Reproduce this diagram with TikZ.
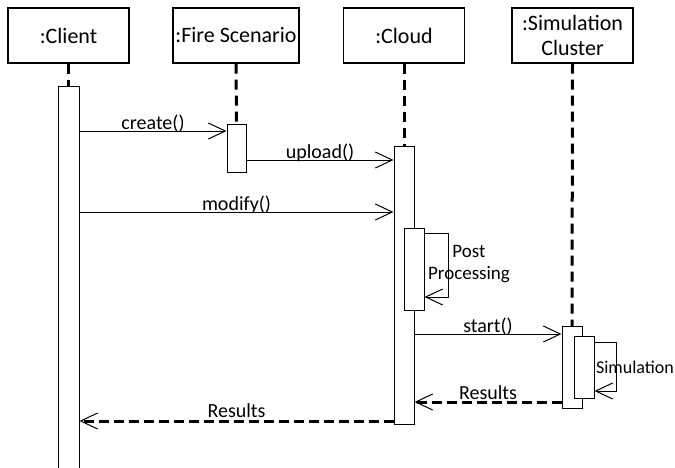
\documentclass[tikz,border=0pt]{standalone}
\usepackage{fontspec}
\setmainfont{Carlito}
\usetikzlibrary{arrows.meta}
\begin{document}
\begin{tikzpicture}[x=1pt,y=-1pt,
  obj/.style={draw, line width=1.2pt, minimum width=121pt, minimum height=55pt, inner sep=0pt,
    font=\fontsize{22}{25}\selectfont, align=center},
  act/.style={draw, line width=1pt, fill=white, minimum width=20pt, inner sep=0pt, anchor=north},
  life/.style={line width=3pt, dash pattern=on 10pt off 6pt},
  msg/.style={line width=1pt, -{Straight Barb[length=17pt,width=16pt]}},
  ret/.style={line width=3pt, dash pattern=on 10pt off 5pt,
    -{Straight Barb[length=17pt,width=16pt,line width=1pt]}},
  lbl/.style={font=\fontsize{20}{24}\selectfont, anchor=base, inner sep=0pt},
  note/.style={font=\fontsize{19}{22}\selectfont, inner sep=0pt, align=center}
]
\useasboundingbox (0,0) rectangle (675,467);

% objects
\node[obj] (client) at (68.5,35.5) {:Client};
\node[obj, minimum width=126pt] (fire) at (236,35.5) {:Fire Scenario};
\node[obj] (cloud) at (404,35.5) {:Cloud};
\node[obj] (sim) at (572.5,35.5) {:Simulation\\Cluster};

% activations
\node[act, minimum width=21pt, minimum height=392pt] (a1) at (68.5,86) {};
\node[act, minimum width=19pt, minimum height=48pt] (a2) at (236.5,124) {};
\node[act, minimum height=278pt] (a3) at (404,146) {};
\node[act, minimum height=82pt] (a4) at (414,228) {};
\node[act, minimum height=82pt] (a5) at (572,326) {};
\node[act, minimum height=62pt] (a6) at (584,336) {};

% lifelines
\draw[life] (client.south) -- (a1.north);
\draw[life] (fire.south) -- (a2.north);
\draw[life] (cloud.south) -- (a3.north);
\draw[life] (sim.south) -- (a5.north);

% messages
\draw[msg] (a1.east |- 0,131) -- node[lbl, yshift=2pt] {create()} (a2.west |- 0,131);
\draw[msg] (a2.east |- 0,160) -- node[lbl, yshift=2pt] {upload()} (a3.west |- 0,160);
\draw[msg] (a1.east |- 0,212) -- node[lbl, yshift=2pt] {modify()} (a3.west |- 0,212);
\draw[msg] (a4.east |- 0,233) -- ++(24,0) |- (a4.east |- 0,297);
\node[note] (pp) at (469,264) {Post\\Processing};
\draw[msg] (a3.east |- 0,334) -- node[lbl, yshift=2pt] {start()} (a5.west |- 0,334);
\draw[msg] (a6.east |- 0,342) -- ++(22,0) |- (a6.east |- 0,391);
\node[note, anchor=base, font=\fontsize{18}{22}\selectfont] (simlbl) at (635,373) {Simulation};
\draw[ret] (a5.west |- 0,402) -- node[lbl, yshift=3pt] {Results} (a3.east |- 0,402);
\draw[ret] (a3.west |- 0,421) -- node[lbl, yshift=4pt] {Results} (a1.east |- 0,421);
\end{tikzpicture}
\end{document}
